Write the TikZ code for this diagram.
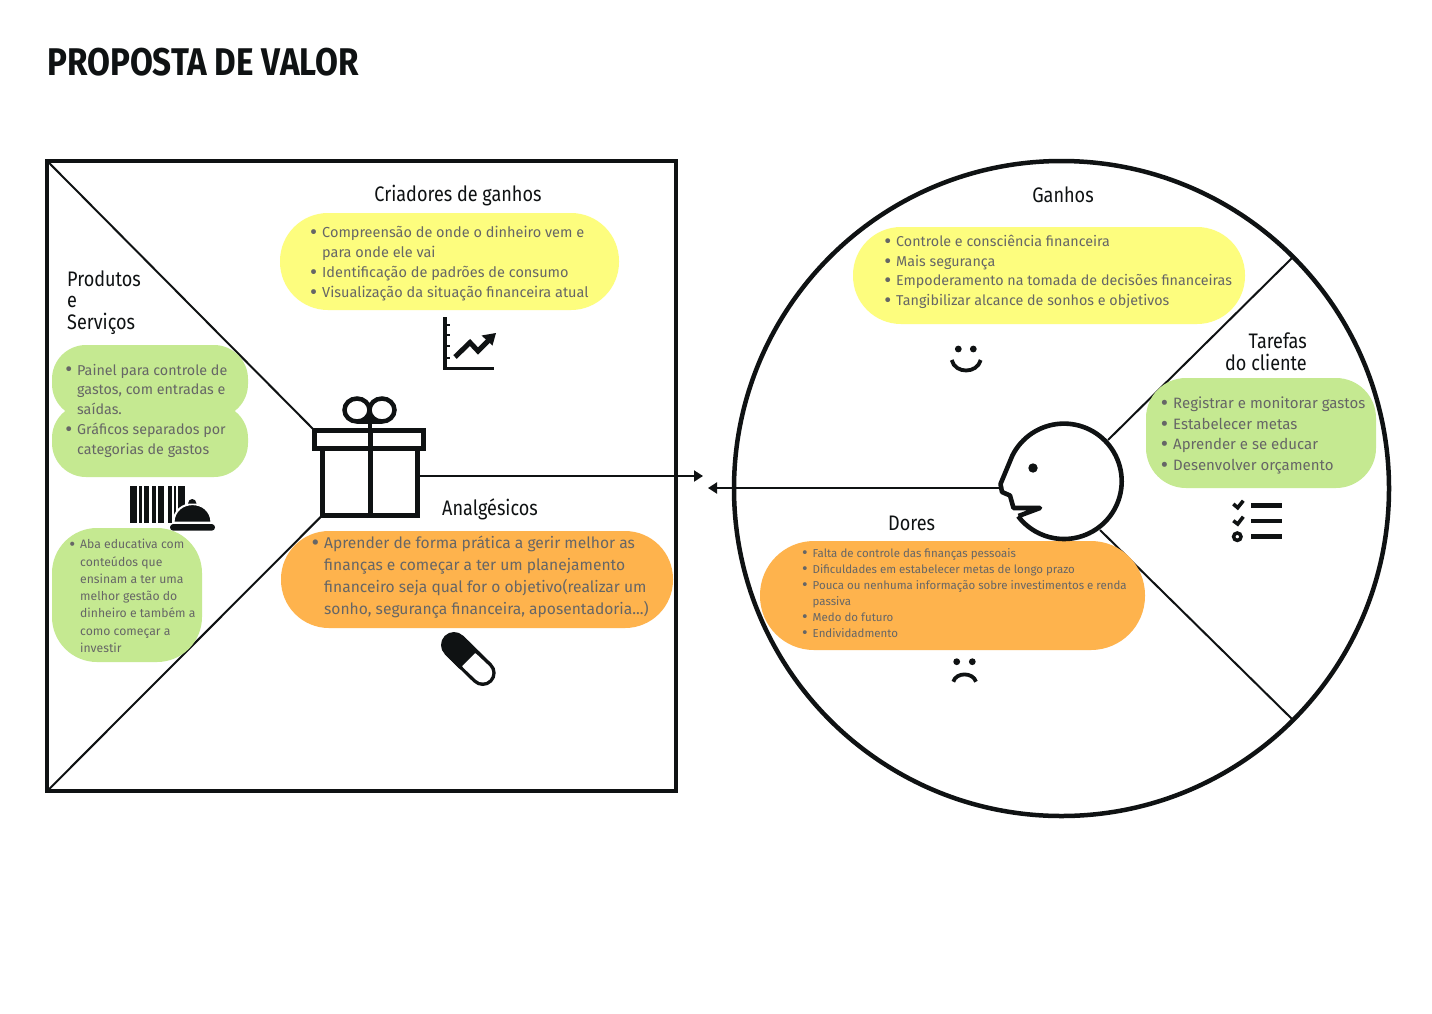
\documentclass[tikz,border=0pt]{standalone}
\usepackage{fontspec}
\setmainfont{Fira Sans}
\newfontfamily\headfont[FakeStretch=0.86]{Fira Sans}
\usetikzlibrary{arrows.meta}
\definecolor{inkblack}{HTML}{0F1213}
\definecolor{textgray}{HTML}{666666}
\definecolor{blobyellow}{HTML}{FDFD7E}
\definecolor{blobgreen}{HTML}{C5E991}
\definecolor{bloborange}{HTML}{FEB34D}
\newcommand{\bul}{\llap{\raisebox{-0.12em}{\scalebox{1.5}{\textbullet}}\hspace{5pt}}}
\tikzset{
  heading/.style={inner sep=0pt,text=inkblack,font=\headfont\fontsize{21}{21.5}\selectfont},
  bodytext/.style n args={2}{inner sep=0pt,anchor=west,align=left,text=textgray,font=\fontsize{#1}{#2}\selectfont},
  frame/.style={draw=inkblack,line width=4.5pt,inner sep=0pt,outer sep=0pt},
  spoke/.style={draw=inkblack,line width=2pt},
  giftpart/.style={draw=inkblack,fill=white,line width=5pt,inner sep=0pt,outer sep=0pt},
  icon/.style={draw=inkblack,line width=3.6pt},
}
\begin{document}
\begin{tikzpicture}[x=1pt,y=-1pt,>={Stealth[inset=0pt,length=9pt,width=11pt]}]
  \useasboundingbox (0,0) rectangle (1432,1013);
  \fill[white] (0,0) rectangle (1432,1013);
  \node[anchor=west,inner sep=0pt,text=inkblack,font=\headfont\bfseries\fontsize{38.6}{40}\selectfont] (title) at (47,62) {PROPOSTA DE VALOR};

  % frames
  \node[frame,minimum width=629pt,minimum height=630pt] (valuebox) at (361.7,476) {};
  \node[frame,circle,minimum size=655pt] (customer) at (1061.5,488.5) {};
  \node[giftpart,minimum width=95pt,minimum height=66.2pt] (giftbox) at (370,482) {};
  \node[giftpart,minimum width=108.4pt,minimum height=17.7pt] (giftlid) at (369,439.6) {};
  \coordinate (giftout) at (420,476);
  \coordinate (gainend) at (703,476);
  \coordinate (painend) at (708,488);
  \coordinate (nose) at (999,488);
  \coordinate (headtop) at (1108,440);
  \coordinate (headlow) at (1100,530);

  \draw[spoke] (valuebox.north west)--(giftlid.north west);
  \draw[spoke] (valuebox.south west)--(giftbox.south west);
  \draw[spoke] (headtop)--(customer.45);
  \draw[spoke] (headlow)--(customer.-45);
  \draw[spoke,->] (giftout)--(gainend);
  \draw[spoke,->] (nose)--(painend);

  % blobs
  \fill[blobyellow,rounded corners=48pt] (280,213) rectangle (619,310);
  \fill[blobgreen,rounded corners=34pt] (52,345) rectangle (248,418);
  \fill[blobgreen,rounded corners=34pt] (52,404) rectangle (248,477);
  \fill[blobgreen,rounded corners=45pt] (52,528) rectangle (202,662);
  \fill[bloborange,rounded corners=48pt] (281,531) rectangle (673,628);
  \fill[blobyellow,rounded corners=48pt] (853,227) rectangle (1245,324);
  \fill[blobgreen,rounded corners=40pt] (1146,378) rectangle (1376,488);
  \fill[bloborange,rounded corners=54pt] (760,541) rectangle (1145,650);

  % headings
  \node[heading] (gaincreators) at (458,195.5) {Criadores de ganhos};
  \node[heading,anchor=west,align=left] (products) at (67,302.5) {Produtos\\e\\Serviços};
  \node[heading,anchor=west] (painkillers) at (442,509.5) {Analgésicos};
  \node[heading] (gains) at (1063,194.5) {Ganhos};
  \node[heading,anchor=east,align=right] (jobs) at (1307,351.5) {Tarefas\\do cliente};
  \node[heading,anchor=west] (pains) at (888,523) {Dores};

  % texts
  \node[bodytext={14.5}{20}] (gaintext) at (322,263.5) {\bul Compreensão de onde o dinheiro vem e\\para onde ele vai\\\bul Identificação de padrões de consumo\\\bul Visualização da situação financeira atual};
  \node[bodytext={14.3}{19.75}] (producttext) at (77,410.5) {\bul Painel para controle de\\gastos, com entradas e\\saídas.\\\bul Gráficos separados por\\categorias de gastos};
  \node[bodytext={12.2}{17.3}] (educationtext) at (80,596) {\bul Aba educativa com\\conteúdos que\\ensinam a ter uma\\melhor gestão do\\dinheiro e também a\\como começar a\\investir};
  \node[bodytext={15.6}{22}] (paintext) at (324,577) {\bul Aprender de forma prática a gerir melhor as\\finanças e começar a ter um planejamento\\financeiro seja qual for o objetivo(realizar um\\sonho, segurança financeira, aposentadoria...)};
  \node[bodytext={14.3}{19.7}] (gainlist) at (896,272) {\bul Controle e consciência financeira\\\bul Mais segurança\\\bul Empoderamento na tomada de decisões financeiras\\\bul Tangibilizar alcance de sonhos e objetivos};
  \node[bodytext={15}{20.6}] (joblist) at (1173,435.5) {\bul Registrar e monitorar gastos\\\bul Estabelecer metas\\\bul Aprender e se educar\\\bul Desenvolver orçamento};
  \node[bodytext={11.5}{15.9}] (painlist) at (812.5,593.5) {\bul Falta de controle das finanças pessoais\\\bul Dificuldades em estabelecer metas de longo prazo\\\bul Pouca ou nenhuma informação sobre investimentos e renda\\passiva\\\bul Medo do futuro\\\bul Endividadmento};

  % gift bow and ribbon
  \draw[inkblack,line width=5pt] (370,431)--(370,515);
  \draw[inkblack,line width=4.5pt] (357,410) ellipse (12.5 and 11.5) (382,410) ellipse (12.5 and 11.5);
  \draw[inkblack,line width=4.5pt] (357,421.5)--(382,421.5);
  \draw[inkblack,line width=4pt] (369.5,408)--(369.5,430);

  % chart icon
  \draw[icon] (445,317)--(445,368.4)--(494,368.4);
  \foreach \ty in {325,335,346,358}
    \draw[inkblack,line width=2.8pt] (445,\ty)--(450,\ty);
  \draw[inkblack,line width=5pt] (455,357)--(470,342.5)--(478,351)--(490,339);
  \fill[inkblack] (496,333)--(481.5,335.5)--(492.5,345.5)--cycle;

  % barcode and bell
  \foreach \bx/\bw in {130/6.7,139/3.3,144.3/4.7,152.3/3.4,158.3/6,168.3/3.4,173.7/2,178.3/6.7}
    \fill[inkblack] (\bx,486) rectangle ++(\bw,36.7);
  \fill[inkblack,draw=white,line width=2pt] (173.5,522.5) .. controls (174,498) and (211,498) .. (211.5,522.5) -- cycle;
  \fill[inkblack] (188,503.5) .. controls (188.5,497.5) and (196,497.5) .. (196.5,503.5) -- cycle;
  \fill[inkblack,rounded corners=3.3pt] (170,524) rectangle (215,530.7);

  % pill
  \draw[inkblack,line width=26pt,line cap=round] (454,645)--(482.7,673);
  \draw[white,line width=19pt,line cap=round] (470,661)--(482.7,673);
  \draw[inkblack,line width=26pt] (454,645)--(468.5,659.5);

  % head
  \draw[inkblack,line width=4.6pt,line join=round] plot[smooth,samples=80,domain=142.7:-153.6] ({1064+57.7*cos(\x)},{481.3+57.7*sin(\x)})
    --(1000.5,484)--(1002,492)--(1010,495.5)--(1013.5,508)--(1040,508)--(1018.5,516);
  \fill[inkblack] (1033,468) circle (4.7);

  % faces
  \fill[inkblack] (958.3,349) circle (3.4) (973.3,349) circle (3.4);
  \draw[inkblack,line width=3.8pt] (951.7,360) .. controls (955,374) and (977,374) .. (980.7,360);
  \fill[inkblack] (956.7,661.7) circle (3.4) (972.3,661.7) circle (3.4);
  \draw[inkblack,line width=3.8pt] (953.3,681.7) .. controls (956,672) and (973,672) .. (976,681.7);

  % checklist
  \draw[icon,line width=3.6pt] (1233.3,504)--(1237.7,507.7)--(1243.3,500.7);
  \draw[icon,line width=3.6pt] (1233.3,520.7)--(1237.7,524)--(1243.3,516.7);
  \draw[icon,line width=3.5pt] (1237.3,536.7) circle (3.7);
  \foreach \ly in {505.3,521,536.7}
    \fill[inkblack] (1251,\ly-2.4) rectangle (1281.5,\ly+2.4);
\end{tikzpicture}
\end{document}
